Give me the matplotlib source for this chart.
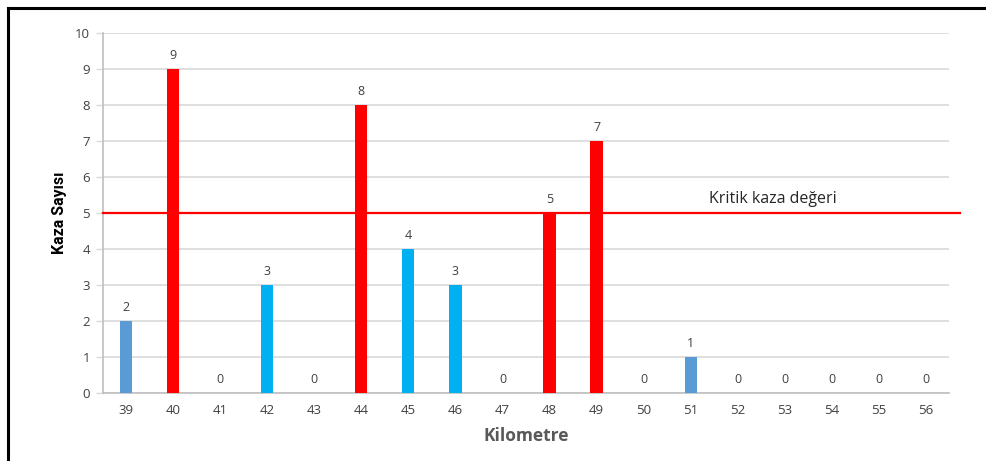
import numpy as np
import matplotlib.pyplot as plt
from matplotlib.lines import Line2D

plt.rcParams["font.family"] = ["Open Sans", "DejaVu Sans"]

KM = [39, 40, 41, 42, 43, 44, 45, 46, 47, 48, 49, 50, 51, 52, 53, 54, 55, 56]
COUNTS = [2, 9, 0, 3, 0, 8, 4, 3, 0, 5, 7, 0, 1, 0, 0, 0, 0, 0]
BAR_COLORS = ["#5B9BD5", "#FF0000", "#5B9BD5", "#00B0F0", "#5B9BD5", "#FF0000",
              "#00B0F0", "#00B0F0", "#5B9BD5", "#FF0000", "#FF0000", "#5B9BD5",
              "#5B9BD5", "#5B9BD5", "#5B9BD5", "#5B9BD5", "#5B9BD5", "#5B9BD5"]
CRITICAL = 5
CRITICAL_LABEL = "Kritik kaza değeri"

fig = plt.figure(figsize=(9.87, 4.61), dpi=100)
ax = fig.add_axes([0.1039, 0.1475, 0.858, 0.781])

x = np.arange(len(KM))
ax.bar(x, COUNTS, width=0.26, color=BAR_COLORS, zorder=3)

for xi, v in zip(x, COUNTS):
    ax.text(xi, v + 0.2, str(v), ha="center", va="bottom", fontsize=9, color="#404040")

ax.set_xlim(-0.5, len(KM) - 0.5)
ax.set_ylim(0, 10)
ax.set_yticks(range(0, 11))
ax.set_xticks(x)
ax.set_xticklabels([str(k) for k in KM])
ax.tick_params(axis="x", length=0, pad=8, labelsize=9.5, labelcolor="#404040")
ax.tick_params(axis="y", length=5, width=1, color="#D9D9D9", pad=4, labelsize=9.5, labelcolor="#404040")

ax.grid(axis="y", color="#D9D9D9", linewidth=1.2, zorder=0)
for side in ["top", "right"]:
    ax.spines[side].set_visible(False)
for side in ["left", "bottom"]:
    ax.spines[side].set_color("#BFBFBF")
    ax.spines[side].set_linewidth(1.2)

# critical line extends a little past the plot area
ax.plot([-0.5, len(KM) - 0.27], [CRITICAL, CRITICAL], color="#FF0000", linewidth=1.6,
        clip_on=False, zorder=4)
ax.text(13.75, CRITICAL + 0.18, CRITICAL_LABEL, ha="center", va="bottom", fontsize=11.5,
        color="#262626")

ax.set_xlabel("Kilometre", fontsize=12.5, fontweight="bold", color="#595959", labelpad=7)
ax.set_ylabel("Kaza Sayısı", fontsize=11.5, fontweight="bold", color="black", labelpad=6,
              family=["Roboto", "DejaVu Sans"], fontstretch="condensed")

# outer frame (top and left)
fig.add_artist(Line2D([8 / 987, 1], [1 - 8 / 461, 1 - 8 / 461], color="black", linewidth=2.2))
fig.add_artist(Line2D([8 / 987, 8 / 987], [0, 1 - 8 / 461], color="black", linewidth=2.2))

fig.savefig("out.png", dpi=100)
